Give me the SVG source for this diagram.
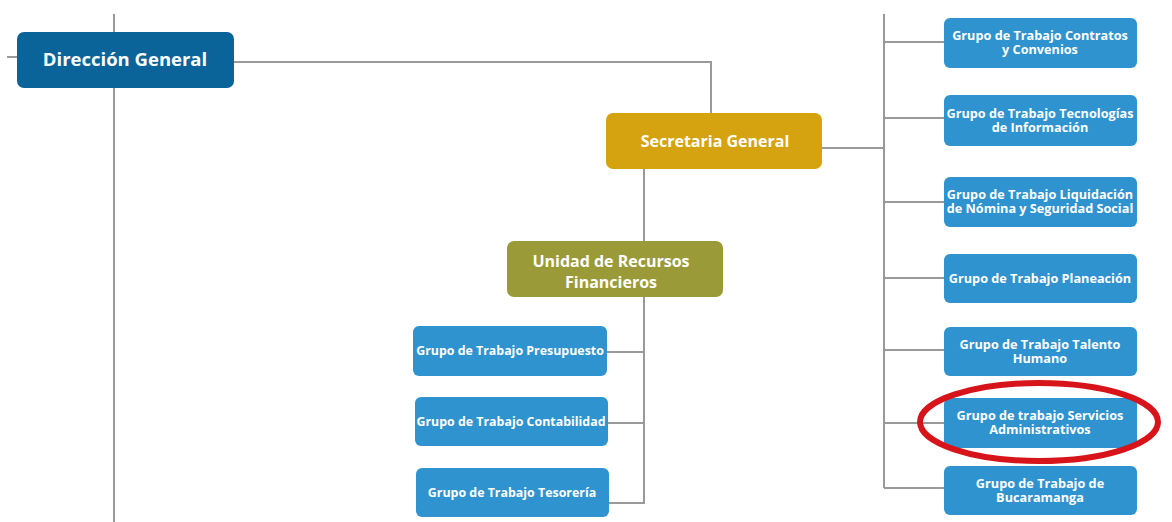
<svg xmlns="http://www.w3.org/2000/svg" width="1172" height="522" viewBox="0 0 1172 522">
<style>
.ln{stroke:#9a9a9a;stroke-width:2;fill:none}
.bx{fill:#2f93cf}
.t{font-family:"Open Sans","Noto Sans",sans-serif;font-weight:bold;fill:#ffffff;text-anchor:middle}
.s{font-size:12.4px}
.r{font-size:12.7px}
</style>
<rect width="1172" height="522" fill="#ffffff"/>
<g id="connectors">
<path class="ln" d="M114 14V522M7 57H17M234 62H711V113"/>
<path class="ln" d="M644 169V241M822 148H884M884 14V488"/>
<path class="ln" d="M884 42H944M884 118H944M884 202H944M884 278H944M884 350H944M884 423H944M884 488H944"/>
<path class="ln" d="M644 297V503H609M607 352H644M608 423H644"/>
</g>
<g id="direccion-general">
<rect x="17" y="32" width="217" height="56" rx="7" fill="#0b6499"/>
<text class="t" x="125" y="66" font-size="18.5">Dirección General</text>
</g>
<g id="secretaria-general">
<rect x="606" y="113" width="216" height="56" rx="7" fill="#d5a310"/>
<text class="t" x="715" y="147" font-size="16">Secretaria General</text>
</g>
<g id="unidad-recursos">
<rect x="507" y="241" width="216" height="56" rx="7" fill="#9a9a38"/>
<text class="t" x="611" y="267" font-size="16">Unidad de Recursos</text>
<text class="t" x="611" y="288" font-size="16">Financieros</text>
</g>
<g id="presupuesto">
<rect class="bx" x="413" y="326" width="194" height="50" rx="6"/>
<text class="t s" x="510" y="355">Grupo de Trabajo Presupuesto</text>
</g>
<g id="contabilidad">
<rect class="bx" x="415" y="397" width="193" height="49" rx="6"/>
<text class="t s" x="511" y="426">Grupo de Trabajo Contabilidad</text>
</g>
<g id="tesoreria">
<rect class="bx" x="416" y="468" width="193" height="49" rx="6"/>
<text class="t s" x="512" y="497">Grupo de Trabajo Tesorería</text>
</g>
<g id="contratos">
<rect class="bx" x="944" y="18" width="193" height="50" rx="6"/>
<text class="t r" x="1040" y="40">Grupo de Trabajo Contratos</text>
<text class="t r" x="1040" y="54">y Convenios</text>
</g>
<g id="tecnologias">
<rect class="bx" x="944" y="95" width="193" height="51" rx="6"/>
<text class="t r" x="1040" y="118">Grupo de Trabajo Tecnologías</text>
<text class="t r" x="1040" y="132">de Información</text>
</g>
<g id="liquidacion">
<rect class="bx" x="944" y="177" width="193" height="50" rx="6"/>
<text class="t r" x="1040" y="199">Grupo de Trabajo Liquidación</text>
<text class="t r" x="1040" y="213">de Nómina y Seguridad Social</text>
</g>
<g id="planeacion">
<rect class="bx" x="944" y="254" width="193" height="49" rx="6"/>
<text class="t r" x="1040" y="283">Grupo de Trabajo Planeación</text>
</g>
<g id="talento">
<rect class="bx" x="944" y="327" width="193" height="49" rx="6"/>
<text class="t r" x="1040" y="349">Grupo de Trabajo Talento</text>
<text class="t r" x="1040" y="363">Humano</text>
</g>
<g id="servicios">
<rect class="bx" x="944" y="398" width="193" height="50" rx="6"/>
<text class="t r" x="1040" y="420">Grupo de trabajo Servicios</text>
<text class="t r" x="1040" y="434">Administrativos</text>
</g>
<g id="bucaramanga">
<rect class="bx" x="944" y="466" width="193" height="49" rx="6"/>
<text class="t r" x="1040" y="488">Grupo de Trabajo de</text>
<text class="t r" x="1040" y="502">Bucaramanga</text>
</g>
<ellipse cx="1039" cy="422" rx="119" ry="39" fill="none" stroke="#d8141b" stroke-width="6"/>
</svg>
